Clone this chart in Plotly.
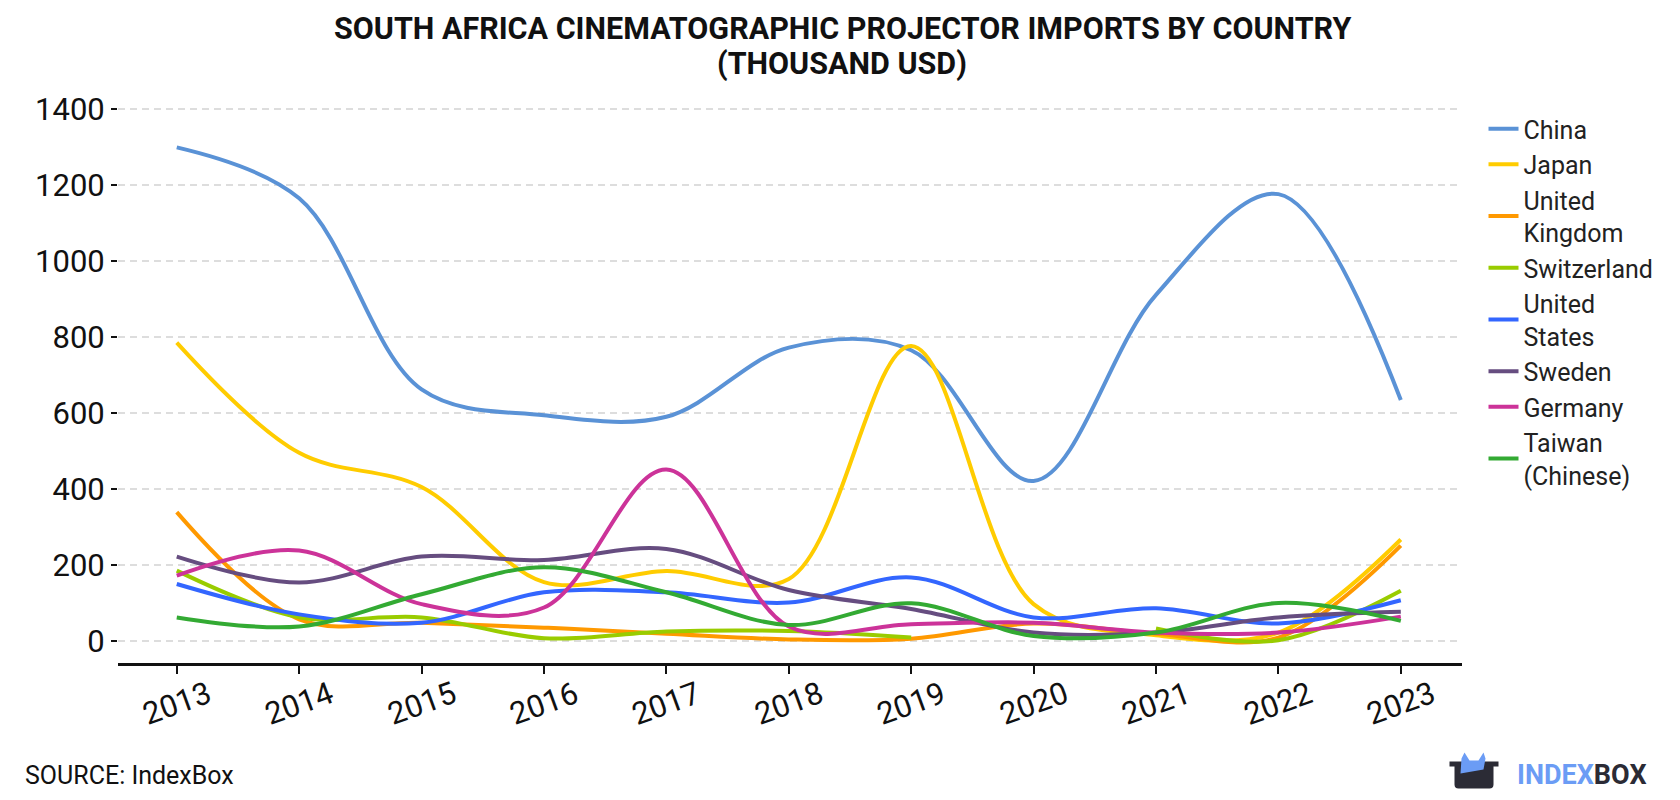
import plotly.graph_objects as go

years = [2013, 2014, 2015, 2016, 2017, 2018, 2019, 2020, 2021, 2022, 2023]
year_labels = ["2013", "2014", "2015", "2016", "2017", "2018", "2019", "2020", "2021", "2022", "2023"]
china = [1299, 1165, 662, 594, 590, 772, 765, 421, 911, 1176, 634]
japan = [785, 495, 405, 155, 184, 163, 776, 97, 15, 22, 267]
uk = [339, 57, 48, 35, 19, 4, 6, 46, 19, 9, 251]
switzerland = [185, 62, 62, 7, 25, 26, 9, None, 33, 2, 132]
usa = [150, 70, 48, 128, 128, 101, 167, 62, 86, 46, 107]
sweden = [222, 154, 222, 213, 242, 134, 84, 22, 22, 62, 77]
germany = [172, 238, 97, 88, 451, 38, 44, 48, 22, 22, 64]
taiwan = [62, 38, 123, 194, 128, 42, 99, 13, 22, 100, 53]
y_ticks = [0, 200, 400, 600, 800, 1000, 1200, 1400]

series = [
    ("China", china, "#5a92d6"),
    ("Japan", japan, "#ffcc00"),
    ("United<br>Kingdom", uk, "#ff9900"),
    ("Switzerland", switzerland, "#99cc00"),
    ("United<br>States", usa, "#3366ff"),
    ("Sweden", sweden, "#664d80"),
    ("Germany", germany, "#cc3399"),
    ("Taiwan<br>(Chinese)", taiwan, "#33aa33"),
]

FONT = "Roboto, 'Noto Sans', sans-serif"
W, H = 1680, 800
L, R, T, B = 110, 226, 82, 145
PW, PH = W - L - R, H - T - B


def px(x):
    return (x - L) / PW


def py(y):
    return (H - B - y) / PH


fig = go.Figure()
for name, vals, color in series:
    fig.add_trace(go.Scatter(
        x=years, y=vals, name=name, mode="lines",
        line=dict(color=color, width=4, shape="spline", smoothing=1),
        connectgaps=False,
    ))

dx, dy = -8.5, -8.5
dark = "#2b2b35"
blue = "#6b9cf5"


def P(x, y):
    return f"{px(x + dx)},{py(y + dy)}"


body = (f"M {P(1450,762)} L {P(1499,762)} L {P(1499,767)} "
        f"L {P(1494,767)} L {P(1494,785)} Q {P(1494,789)} {P(1490,789)} "
        f"L {P(1459,789)} Q {P(1455,789)} {P(1455,785)} "
        f"L {P(1455,767)} L {P(1450,767)} Z")
ears = (f"M {P(1461,774)} L {P(1462,759)} L {P(1465,753)} "
        f"L {P(1470,761)} L {P(1479,761)} L {P(1484,753)} "
        f"L {P(1486,759)} L {P(1484,770)} Z")
shapes = [
    dict(type="path", xref="paper", yref="paper", path=body,
         fillcolor=dark, line=dict(width=0), layer="above"),
    dict(type="path", xref="paper", yref="paper", path=ears,
         fillcolor=blue, line=dict(width=0), layer="above"),
]

annotations = [
    dict(text="<b>SOUTH AFRICA CINEMATOGRAPHIC PROJECTOR IMPORTS BY COUNTRY</b>",
         xref="paper", yref="paper", x=px(834), y=py(21), xanchor="center", yanchor="middle",
         showarrow=False, font=dict(family=FONT, size=30.5, color="#111")),
    dict(text="<b>(THOUSAND USD)</b>",
         xref="paper", yref="paper", x=px(834), y=py(56), xanchor="center", yanchor="middle",
         showarrow=False, font=dict(family=FONT, size=30.5, color="#111")),
    dict(text="SOURCE: IndexBox", xref="paper", yref="paper",
         x=px(15), y=py(767.5), xanchor="left", yanchor="middle", showarrow=False,
         font=dict(family=FONT, size=25, color="#111")),
    dict(text="<b><span style='color:#6b9cf5'>INDEX</span><span style='color:#2b2b35'>BOX</span></b>",
         xref="paper", yref="paper", x=px(1515 + dx), y=py(775 + dy), xanchor="left", yanchor="middle",
         showarrow=False, font=dict(family=FONT, size=27)),
]
for yr, lab in zip(years, year_labels):
    annotations.append(dict(text=lab, xref="x", yref="paper", x=yr, y=py(695),
                            xanchor="center", yanchor="middle", textangle=-20,
                            showarrow=False, font=dict(family=FONT, size=31, color="#111")))

fig.update_layout(
    width=W, height=H,
    margin=dict(l=L, r=R, t=T, b=B, autoexpand=False),
    paper_bgcolor="white", plot_bgcolor="white",
    font=dict(family=FONT, color="#111"),
    showlegend=True,
    legend=dict(x=1.016, xanchor="left", y=0.972, yanchor="top",
                font=dict(family=FONT, size=25, color="#222"),
                itemwidth=30, tracegroupgap=0, bgcolor="rgba(0,0,0,0)"),
    shapes=shapes,
    annotations=annotations,
    xaxis=dict(range=[2012.52, 2023.5], tickmode="array", tickvals=years,
               showticklabels=False, automargin=False,
               showgrid=False, zeroline=False,
               showline=True, linecolor="#111", linewidth=2.5,
               ticks="outside", ticklen=8, tickwidth=2, tickcolor="#111"),
    yaxis=dict(range=[-58, 1450], tickmode="array", tickvals=y_ticks,
               automargin=False,
               showgrid=True, gridcolor="#dddddd", gridwidth=2, griddash="7px,5px",
               zeroline=False, showline=False,
               ticks="outside", ticklen=6, tickwidth=2, tickcolor="#111",
               tickfont=dict(family=FONT, size=31, color="#111")),
)

fig.write_html("out.html")
